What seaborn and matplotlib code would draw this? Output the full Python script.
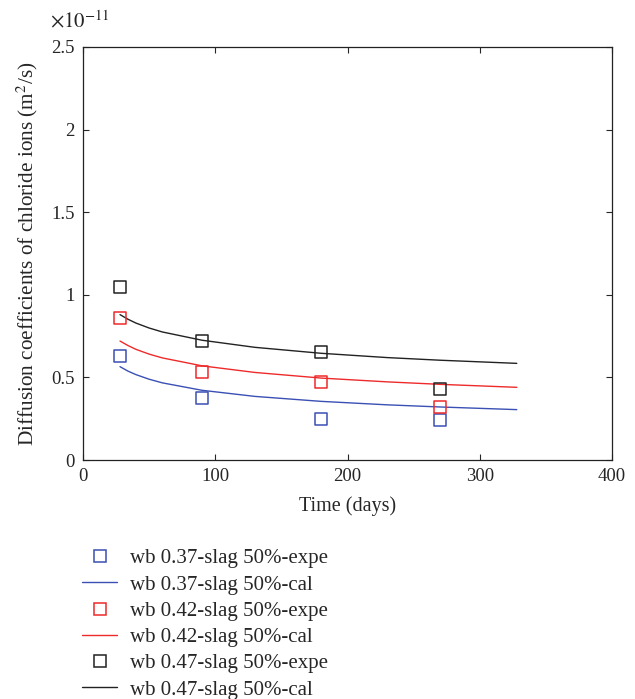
import numpy as np
import pandas as pd
import seaborn as sns
import matplotlib
matplotlib.use("Agg")
import matplotlib.pyplot as plt
from matplotlib.lines import Line2D

sns.set_style("ticks")
plt.rcParams['font.family'] = ['Liberation Serif', 'DejaVu Serif']
plt.rcParams['mathtext.fontset'] = 'stix'

# Experimental data (units of 1e-11 m^2/s)
t_exp = [28, 90, 180, 270]
exp_037 = [0.63, 0.375, 0.25, 0.24]
exp_042 = [0.86, 0.53, 0.47, 0.32]
exp_047 = [1.05, 0.72, 0.655, 0.43]

# Calculated curves
t_cal = [28, 34, 40, 50, 60, 90, 130, 180, 230, 270, 328]
cal_037 = [0.565, 0.538, 0.517, 0.489, 0.467, 0.422, 0.385, 0.355, 0.334, 0.321, 0.305]
cal_042 = [0.720, 0.693, 0.670, 0.641, 0.618, 0.570, 0.530, 0.496, 0.473, 0.458, 0.440]
cal_047 = [0.880, 0.852, 0.829, 0.799, 0.775, 0.725, 0.682, 0.646, 0.620, 0.604, 0.585]

names = ["wb 0.37-slag 50%", "wb 0.42-slag 50%", "wb 0.47-slag 50%"]
colors = ["#3a50b4", "#ee2a2a", "#222222"]

exp_df = pd.DataFrame({
    "t": t_exp * 3,
    "D": exp_037 + exp_042 + exp_047,
    "s": [names[0]] * 4 + [names[1]] * 4 + [names[2]] * 4,
})
cal_df = pd.DataFrame({
    "t": t_cal * 3,
    "D": cal_037 + cal_042 + cal_047,
    "s": [names[0]] * len(t_cal) + [names[1]] * len(t_cal) + [names[2]] * len(t_cal),
})

fig = plt.figure(figsize=(6.35, 6.99), dpi=100)
ax = fig.add_axes([0.1307, 0.3419, 0.8331, 0.5909])

handles = []
labels = []
for name, c in zip(names, colors):
    sub_c = cal_df[cal_df.s == name]
    sns.lineplot(data=sub_c, x="t", y="D", color=c, lw=1.0, ax=ax, legend=False)
    sub_e = exp_df[exp_df.s == name]
    sns.scatterplot(data=sub_e, x="t", y="D", marker="s", s=75, facecolor="none",
                    edgecolor=c, linewidth=1.1, ax=ax, legend=False, zorder=3)
    handles.append(Line2D([], [], ls="none", marker="s", markersize=8,
                          markerfacecolor="none", markeredgecolor=c, markeredgewidth=1.1))
    labels.append(name + "-expe")
    handles.append(Line2D([], [], color=c, lw=1.0))
    labels.append(name + "-cal")

ax.set_xlim(0, 400)
ax.set_ylim(0, 2.5)
ax.set_xticks([0, 100, 200, 300, 400])
ax.set_yticks([0, 0.5, 1, 1.5, 2, 2.5])
ax.set_yticklabels(["0", "0.5", "1", "1.5", "2", "2.5"])
ax.tick_params(direction="in", top=True, right=True, labelsize=13.5, length=4, width=0.8,
               pad=6)
for sp in ax.spines.values():
    sp.set_visible(True)
    sp.set_linewidth(0.9)
    sp.set_color("#222222")
ax.set_xlabel("Time (days)", fontsize=14.5, labelpad=8)
ax.set_ylabel("Diffusion coefficients of chloride ions (m$^2$/s)", fontsize=15.3, labelpad=8)
ax.text(-0.063, 1.062, r"$\times 10^{-11}$", transform=ax.transAxes, fontsize=15,
        ha="left", va="center")

fig.legend(handles, labels, loc="upper left", bbox_to_anchor=(0.129, 0.215),
           frameon=False, fontsize=15, handlelength=1.7, labelspacing=0.32,
           handletextpad=0.62, borderpad=0, borderaxespad=0)

fig.savefig("out.png", dpi=100)
